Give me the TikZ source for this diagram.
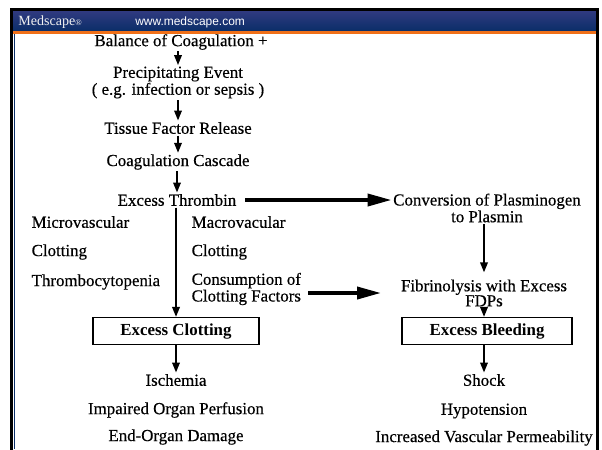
\documentclass[tikz,border=0pt]{standalone}
\usepackage{fontspec}
\setmainfont{Liberation Serif}
\setsansfont{Liberation Sans}
\newfontfamily\scanfont{Liberation Serif}[FakeBold=0.45]
\usetikzlibrary{arrows.meta,positioning}
\definecolor{msblue}{RGB}{10,46,104}
\definecolor{mstop}{RGB}{48,58,128}
\definecolor{msorange}{RGB}{240,112,24}

\begin{document}
\begin{tikzpicture}[x=0.025cm, y=-0.025cm,
    txt/.style={inner sep=1pt, font=\scanfont\fontsize{12}{10.7}\selectfont, align=center},
    lefttxt/.style={txt, anchor=west, align=left},
    outcome/.style={draw, line width=0.9pt, minimum width=4.15cm, minimum height=0.68cm,
        font=\fontsize{12}{14}\selectfont\bfseries},
    flow/.style={-{Triangle[length=7pt, width=5.5pt]}, line width=0.9pt},
    bigflow/.style={-{Triangle[length=17pt, width=8.5pt]}, line width=2.6pt}]
    \useasboundingbox (0,0) rectangle (602,449);
    % Header band
    \shade[top color=mstop, bottom color=msblue] (13,11) rectangle (596,31);
    \fill[msorange] (13,31) rectangle (596,34);
    \draw[msblue, line width=1pt] (14.5,34) -- (14.5,449);
    \draw[line width=2.2pt] (11.5,460) -- (11.5,9.5) -- (597.5,9.5) -- (597.5,460);
    \node[anchor=west, inner sep=0pt, text=white!88!gray,
        font=\fontsize{10}{11}\selectfont] (brand) at (18,22) {Medscape{\fontsize{6}{7}\selectfont®}};
    \node[anchor=west, inner sep=0pt, text=white,
        font=\sffamily\fontsize{8.5}{10}\selectfont] (site) at (135,22) {www.medscape.com};
    % Left column
    \node[txt] (bal) at (181,42) {Balance of Coagulation +};
    \node[txt] (prec) at (178,82.5) {Precipitating Event\\( e.g. infection or sepsis )};
    \node[txt] (tis) at (178,128) {Tissue Factor Release};
    \node[txt] (casc) at (178,162) {Coagulation Cascade};
    \node[txt] (thr) at (177,200) {Excess Thrombin};
    \node[lefttxt] (micro) at (30,222) {Microvascular};
    \node[lefttxt] (clotl) at (30,252) {Clotting};
    \node[lefttxt] (thrcy) at (30,282) {Thrombocytopenia};
    \node[lefttxt] (macro) at (190,222) {Macrovacular};
    \node[lefttxt] (clotr) at (190,252) {Clotting};
    \node[lefttxt] (cons) at (190,289) {Consumption of\\Clotting Factors};
    \node[outcome] (clot) at (176,331) {Excess Clotting};
    \node[txt] (isch) at (176,380) {Ischemia};
    \node[txt] (perf) at (176,410) {Impaired Organ Perfusion};
    \node[txt] (dmg) at (176,437) {End-Organ Damage};
    % Right column
    \node[txt] (conv) at (487,208) {Conversion of Plasminogen\\to Plasmin};
    \node[txt] (fib) at (484,293) {Fibrinolysis with Excess\\FDPs};
    \node[outcome, minimum width=4.25cm] (bleed) at (487,331) {Excess Bleeding};
    \node[txt] (shock) at (484,380) {Shock};
    \node[txt] (hypo) at (484,411) {Hypotension};
    \node[txt] (perm) at (484,438) {Increased Vascular Permeability};
    % Arrows
    \draw[flow] (prec.north |- bal.south) -- (prec.north);
    \draw[flow] (prec.south -| tis.north) -- (tis.north);
    \draw[flow] (tis) -- (casc);
    \draw[flow] (casc.south -| thr.north) -- (thr.north);
    \draw[flow] (thr.south -| clot) -- (clot.north);
    \draw[flow] (clot) -- (isch);
    \draw[flow] (conv.south -| fib) -- ([yshift=4pt]fib.north);
    \draw[flow] (fib.south) -- (fib.south |- bleed.north);
    \draw[flow] (bleed.south -| shock) -- (shock.north);
    \draw[bigflow] ([xshift=5pt]thr.east) -- (thr.east -| conv.west);
    \draw[bigflow] ([xshift=4pt]cons.east |- fib.west) -- ([xshift=-13pt]fib.west);
\end{tikzpicture}
\end{document}
